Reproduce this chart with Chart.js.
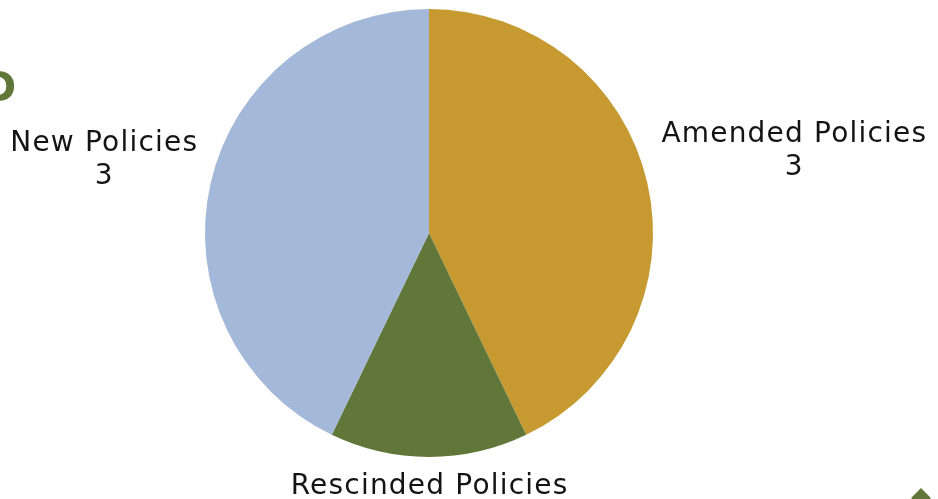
<!DOCTYPE html>
<html>
<head>
<meta charset="utf-8">
<script src="https://cdn.jsdelivr.net/npm/chart.js@4/dist/chart.umd.min.js"></script>
<style>
  html, body { margin: 0; padding: 0; background: #ffffff; overflow: hidden; }
  #wrap { position: relative; width: 938px; height: 499px; }
  #frag { position: absolute; left: -17px; top: 64px; font: bold 40px "DejaVu Sans", sans-serif; color: #61773A; }
  #diamond { position: absolute; left: 914px; top: 491px; width: 14px; height: 14px; background: #61773A; transform: rotate(45deg); }
</style>
</head>
<body>
<div id="wrap">
  <canvas id="c" width="938" height="499"></canvas>
  <div id="frag">D</div>
  <div id="diamond"></div>
</div>
<script>
const categories = ["Amended Policies", "Rescinded Policies", "New Policies"];
const values = [3, 1, 3];
const colors = ["#C69A31", "#61773A", "#A4B8DA"];
const labelDistance = [1.67, 1.20, 1.49];

const labelPlugin = {
  id: 'outsideLabels',
  afterDraw(chart) {
    const ctx = chart.ctx;
    const meta = chart.getDatasetMeta(0);
    ctx.save();
    ctx.font = '28px "DejaVu Sans", sans-serif';
    ctx.letterSpacing = '1.2px';
    ctx.fillStyle = '#141414';
    ctx.textAlign = 'center';
    ctx.textBaseline = 'middle';
    const lh = 33;
    meta.data.forEach((arc, i) => {
      const p = arc.getProps(['x', 'y', 'startAngle', 'endAngle', 'outerRadius'], true);
      const mid = (p.startAngle + p.endAngle) / 2;
      const d = p.outerRadius * labelDistance[i];
      const cx = p.x + Math.cos(mid) * d + 0.6;
      const cy = p.y + Math.sin(mid) * d + 1;
      ctx.fillText(categories[i], cx, cy - lh / 2);
      ctx.fillText(String(values[i]), cx, cy + lh / 2);
    });
    ctx.restore();
  }
};

new Chart(document.getElementById('c'), {
  type: 'pie',
  data: {
    labels: categories,
    datasets: [{ data: values, backgroundColor: colors, borderWidth: 0 }]
  },
  options: {
    responsive: false,
    animation: false,
    layout: { padding: { left: 0, right: 80, top: 9, bottom: 42 } },
    plugins: { legend: { display: false }, tooltip: { enabled: false } }
  },
  plugins: [labelPlugin]
});
</script>
</body>
</html>
